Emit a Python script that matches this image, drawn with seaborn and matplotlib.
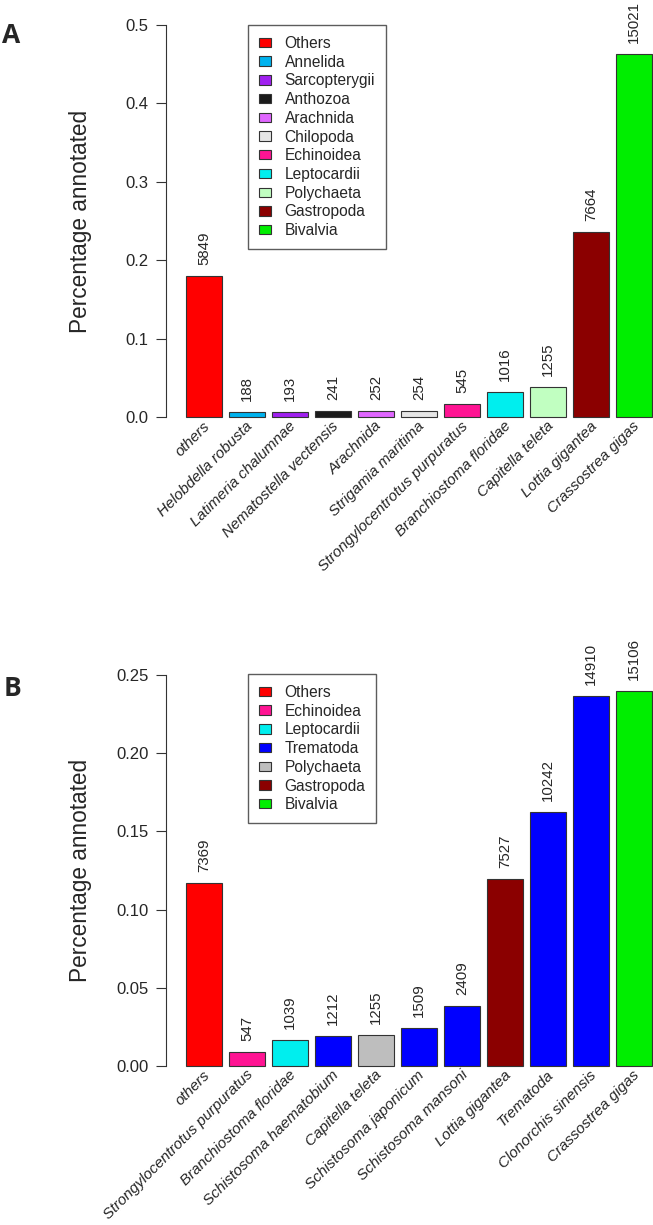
import numpy as np
import pandas as pd
import matplotlib
matplotlib.use("Agg")
import matplotlib.pyplot as plt
import seaborn as sns
from matplotlib.patches import Patch

# Panel A data
a_species = ["others", "Helobdella robusta", "Latimeria chalumnae", "Nematostella vectensis",
             "Arachnida", "Strigamia maritima", "Strongylocentrotus purpuratus",
             "Branchiostoma floridae", "Capitella teleta", "Lottia gigantea", "Crassostrea gigas"]
a_pct = [0.1801, 0.0058, 0.0059, 0.0074, 0.0078, 0.0078, 0.0168, 0.0313, 0.0387, 0.2360, 0.4626]
a_counts = [5849, 188, 193, 241, 252, 254, 545, 1016, 1255, 7664, 15021]
a_colors = ["#FF0000", "#00B2EE", "#A020F0", "#1A1A1A", "#E066FF", "#E5E5E5",
            "#FF1493", "#00EEEE", "#C1FFC1", "#8B0000", "#00EE00"]
a_legend = ["Others", "Annelida", "Sarcopterygii", "Anthozoa", "Arachnida", "Chilopoda",
            "Echinoidea", "Leptocardii", "Polychaeta", "Gastropoda", "Bivalvia"]

# Panel B data
b_species = ["others", "Strongylocentrotus purpuratus", "Branchiostoma floridae",
             "Schistosoma haematobium", "Capitella teleta", "Schistosoma japonicum",
             "Schistosoma mansoni", "Lottia gigantea", "Trematoda", "Clonorchis sinensis",
             "Crassostrea gigas"]
b_pct = [0.1170, 0.0087, 0.0165, 0.0192, 0.0199, 0.0240, 0.0382, 0.1195, 0.1626, 0.2367, 0.2398]
b_counts = [7369, 547, 1039, 1212, 1255, 1509, 2409, 7527, 10242, 14910, 15106]
b_colors = ["#FF0000", "#FF1493", "#00EEEE", "#0000FF", "#BEBEBE", "#0000FF",
            "#0000FF", "#8B0000", "#0000FF", "#0000FF", "#00EE00"]
b_legend = ["Others", "Echinoidea", "Leptocardii", "Trematoda", "Polychaeta",
            "Gastropoda", "Bivalvia"]
b_legend_colors = ["#FF0000", "#FF1493", "#00EEEE", "#0000FF", "#BEBEBE", "#8B0000", "#00EE00"]

sns.set_style("white")
plt.rcParams['font.family'] = ['Liberation Sans', 'DejaVu Sans']

W, H = 653, 1225
fig = plt.figure(figsize=(W / 100, H / 100), dpi=100)

EDGE = "#333333"


def draw_panel(ax, names, pct, counts, colors, ylim, ticks, fmt, leg_labels, leg_colors, leg_top):
    df = pd.DataFrame({"name": names, "pct": pct})
    sns.barplot(data=df, x="name", y="pct", hue="name", palette=dict(zip(names, colors)),
                width=0.833, edgecolor=EDGE, linewidth=0.8, legend=False, ax=ax,
                saturation=1)
    ax.set_xlim(-0.882, 10.44)
    ax.set_ylim(*ylim)
    for s in ["top", "right", "bottom"]:
        ax.spines[s].set_visible(False)
    ax.spines["left"].set_bounds(ticks[0], ticks[-1])
    ax.spines["left"].set_color(EDGE)
    ax.spines["left"].set_linewidth(0.8)
    ax.set_yticks(ticks)
    ax.set_yticklabels([fmt.format(t) for t in ticks], fontsize=12)
    ax.tick_params(axis="y", length=7, width=0.8, pad=5.5, color=EDGE, left=True)
    ax.set_xticks([])
    ax.set_xlabel("")
    ax.set_ylabel("Percentage annotated", fontsize=16.3)
    ax.yaxis.set_label_coords(-0.152, 0.5)

    # value labels above bars
    for i, (v, c) in enumerate(zip(pct, counts)):
        ax.annotate(str(c), (i, v), xytext=(0, 8), textcoords="offset points",
                    rotation=90, ha="center", va="bottom", fontsize=10.8, annotation_clip=False)

    # rotated italic species names
    span = ylim[1] - ylim[0]
    for i, n in enumerate(names):
        ax.text(i + 0.08, -0.016 * span, n, rotation=45, ha="right", va="center",
                rotation_mode="anchor", style="italic", fontsize=11, clip_on=False)

    handles = [Patch(facecolor=c, edgecolor=EDGE, linewidth=0.8) for c in leg_colors]
    fig.legend(handles, leg_labels, loc="upper left",
               bbox_to_anchor=(248 / W, 1 - leg_top / H), borderaxespad=0,
               fontsize=11.2, frameon=True, fancybox=False, edgecolor=EDGE,
               handlelength=0.8, handleheight=0.55, handletextpad=0.85,
               labelspacing=0.24, borderpad=0.7)


axA = fig.add_axes([166 / W, (H - 432.7) / H, (W - 166) / W, 423.4 / H])
draw_panel(axA, a_species, a_pct, a_counts, a_colors, (-0.02, 0.52),
           [0.0, 0.1, 0.2, 0.3, 0.4, 0.5], "{:.1f}", a_legend, a_colors, 25)

axB = fig.add_axes([166 / W, (H - 1081.6) / H, (W - 166) / W, 422.2 / H])
draw_panel(axB, b_species, b_pct, b_counts, b_colors, (-0.01, 0.26),
           [0.0, 0.05, 0.10, 0.15, 0.20, 0.25], "{:.2f}", b_legend, b_legend_colors, 674)

fig.text(2 / W, 1 - 22 / H, "A", fontsize=19, fontweight="bold", va="top",
         family=["Open Sans", "DejaVu Sans"])
fig.text(4 / W, 1 - 675 / H, "B", fontsize=19, fontweight="bold", va="top",
         family=["Open Sans", "DejaVu Sans"])

fig.savefig("out.png", dpi=100)
